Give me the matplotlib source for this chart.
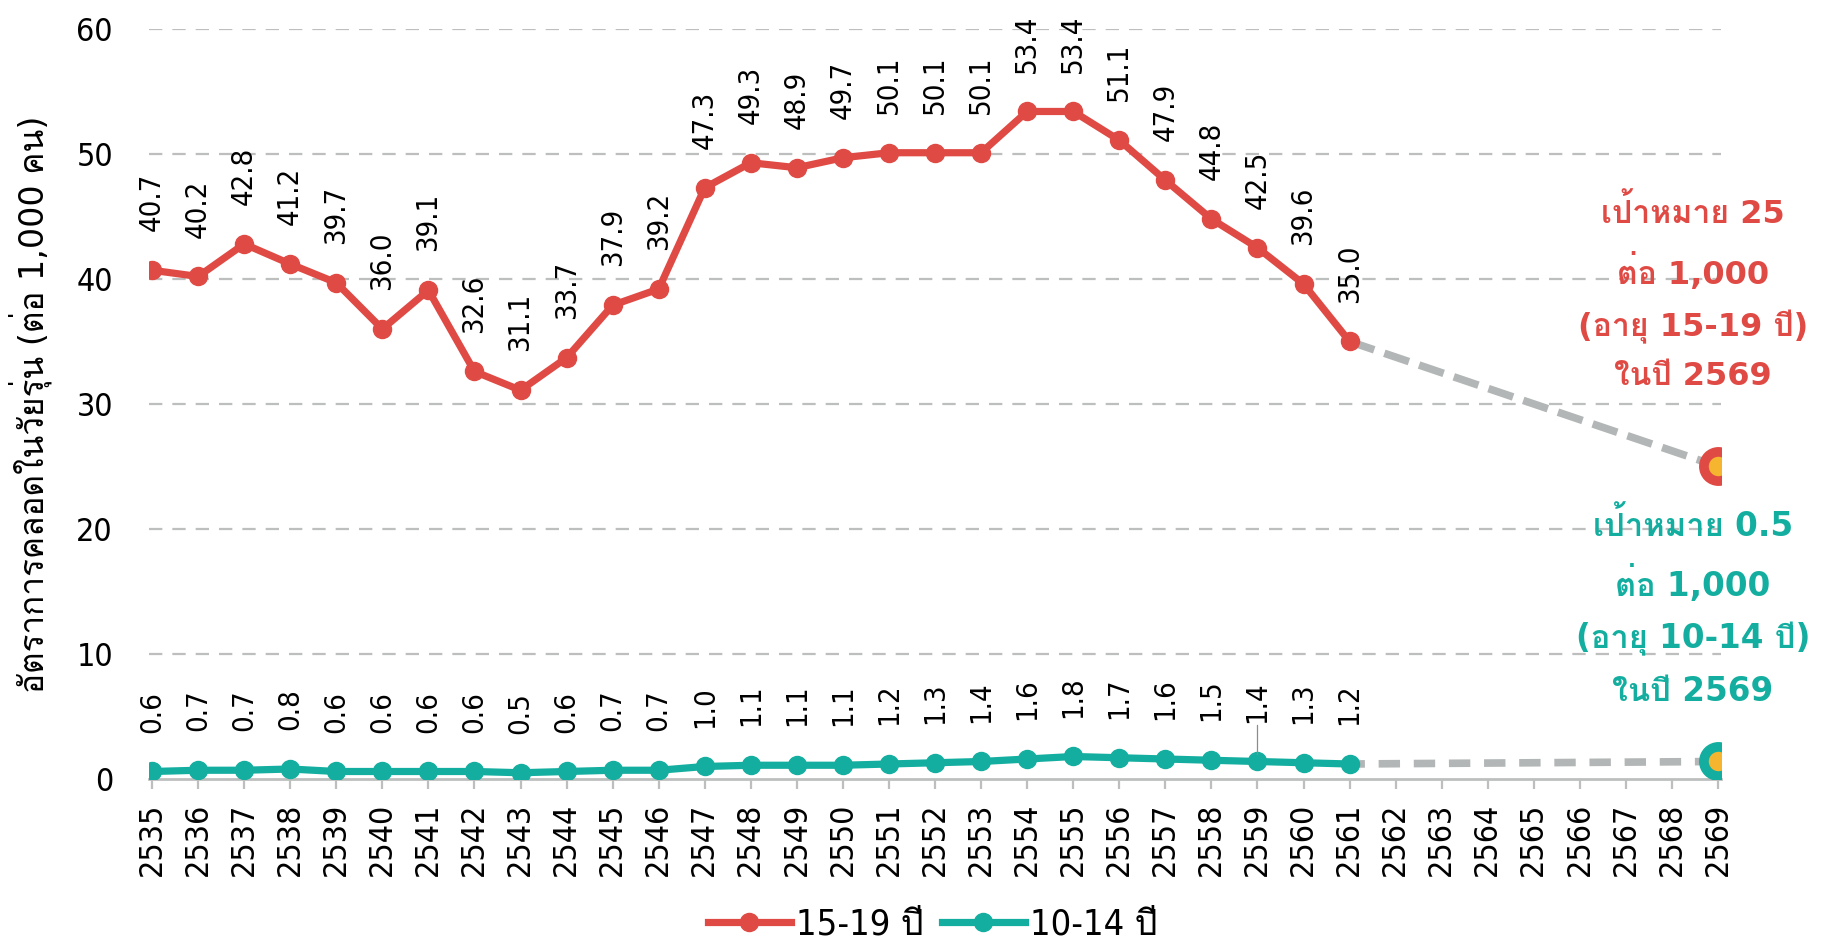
import matplotlib
matplotlib.use("Agg")
import matplotlib.pyplot as plt
from matplotlib import font_manager
from matplotlib.font_manager import FontProperties
from matplotlib.ft2font import FT2Font

# ---------------- data ----------------
years = list(range(2535, 2562))
years_all = list(range(2535, 2570))
rate_15_19 = [40.7, 40.2, 42.8, 41.2, 39.7, 36.0, 39.1, 32.6, 31.1, 33.7, 37.9, 39.2,
              47.3, 49.3, 48.9, 49.7, 50.1, 50.1, 50.1, 53.4, 53.4, 51.1, 47.9, 44.8,
              42.5, 39.6, 35.0]
rate_10_14 = [0.6, 0.7, 0.7, 0.8, 0.6, 0.6, 0.6, 0.6, 0.5, 0.6, 0.7, 0.7, 1.0, 1.1,
              1.1, 1.1, 1.2, 1.3, 1.4, 1.6, 1.8, 1.7, 1.6, 1.5, 1.4, 1.3, 1.2]
target_year = 2569
target_15_19 = 25
target_10_14_plot = 1.4
yticks = [0, 10, 20, 30, 40, 50, 60]
series_names = ["15-19 ปี", "10-14 ปี"]
ylabel = "อัตราการคลอดในวัยรุ่น (ต่อ 1,000 คน)"
note_15_19 = "เป้าหมาย 25\nต่อ 1,000\n(อายุ 15-19 ปี)\nในปี 2569"
note_10_14 = "เป้าหมาย 0.5\nต่อ 1,000\n(อายุ 10-14 ปี)\nในปี 2569"

# ---------------- fonts ----------------
thai = []
for f in font_manager.fontManager.ttflist:
    if "CJK" in f.name:
        continue
    try:
        if 0x0E01 in FT2Font(f.fname).get_charmap():
            if f.name not in thai:
                thai.append(f.name)
    except Exception:
        pass
has_dv_cond = any(f.name == "DejaVu Sans" and "condensed" in str(f.stretch)
                  for f in font_manager.fontManager.ttflist)
base_fam = ["DejaVu Sans"] + thai
plt.rcParams["font.family"] = base_fam

stretch = "condensed" if has_dv_cond else "normal"
lab_size, xt_size = (21, 23) if has_dv_cond else (19, 21)
ytick_size, leg_size = (23, 26) if has_dv_cond else (21, 23)

RED = "#E04A44"
TEAL = "#13AE9F"
GREY = "#B3B6B6"
GRID = "#BDBFBF"
GOLD = "#F6B52E"

fig = plt.figure(figsize=(18.29, 9.5), dpi=100)
ax = fig.add_axes([0.0815, 0.18, 0.8595, 0.7895])
ax.set_xlim(2534.935, 2569.065)
ax.set_ylim(0, 60)

# grid
for v in yticks[1:]:
    ax.axhline(v, color=GRID, lw=1.6, ls=(0, (6, 4.5)), zorder=0)

# dashed projections
ax.plot([years[-1], target_year], [rate_15_19[-1], target_15_19], color=GREY, lw=5.5,
        ls=(0, (3.4, 1.4)), zorder=1)
ax.plot([years[-1], target_year], [rate_10_14[-1], target_10_14_plot], color=GREY, lw=5.5,
        ls=(0.8, (2.8, 1.8)), zorder=1)

# series
l1, = ax.plot(years, rate_15_19, color=RED, lw=5.2, marker="o", ms=13, zorder=3,
              label=series_names[0])
l2, = ax.plot(years, rate_10_14, color=TEAL, lw=5.2, marker="o", ms=13, zorder=3,
              label=series_names[1])

# target markers
ax.plot([target_year], [target_15_19], marker="o", ms=21, mfc=GOLD, mec=RED, mew=7,
        zorder=4, ls="none")
ax.plot([target_year], [target_10_14_plot], marker="o", ms=21, mfc=GOLD, mec=TEAL, mew=7,
        zorder=4, ls="none")

# data labels
def label(x, v, leader=False):
    kw = dict(xytext=(0, 28), textcoords="offset points", rotation=90, ha="center",
              va="bottom", fontsize=lab_size, color="black", family="DejaVu Sans",
              fontstretch=stretch)
    if leader:
        kw["arrowprops"] = dict(arrowstyle="-", color="#8C8C8C", lw=0.9, shrinkA=0,
                                shrinkB=5)
    ax.annotate(f"{v:.1f}", (x, v), **kw)

for x, v in zip(years, rate_15_19):
    label(x, v)
for x, v in zip(years, rate_10_14):
    label(x, v, leader=(x == 2559))

# notes
ax.text(2568.45, 38.8, note_15_19, color=RED, fontsize=23, fontweight="bold",
        ha="center", va="center", linespacing=1.72, family=base_fam)
ax.text(2568.45, 13.7, note_10_14, color=TEAL, fontsize=23.5, fontweight="bold",
        ha="center", va="center", linespacing=1.72, family=base_fam)

# axes styling
for s in ["top", "right", "left"]:
    ax.spines[s].set_visible(False)
ax.spines["bottom"].set_color(GRID)
ax.spines["bottom"].set_linewidth(2)
ax.set_xticks(years_all)
ax.set_xticklabels([str(y) for y in years_all], rotation=90, fontsize=xt_size,
                   family="DejaVu Sans", fontstretch=stretch)
ax.tick_params(axis="x", length=7, width=1.6, color=GRID, pad=10)
ax.set_yticks(yticks)
ax.set_yticklabels([str(v) for v in yticks], fontsize=ytick_size, family=base_fam,
                   fontstretch=stretch)
ax.tick_params(axis="y", length=0, pad=26)
ax.set_ylabel(ylabel, fontsize=24, family=base_fam)
ax.yaxis.set_label_coords(-0.062, 0.5)

leg_prop = FontProperties(family=base_fam, stretch=stretch, size=leg_size)
fig.legend(handles=[l1, l2], loc="center", bbox_to_anchor=(0.51, 0.027), ncol=2,
           frameon=False, prop=leg_prop, handlelength=2.3,
           handletextpad=0.15, columnspacing=0.5)

fig.savefig("out.png", dpi=100)
